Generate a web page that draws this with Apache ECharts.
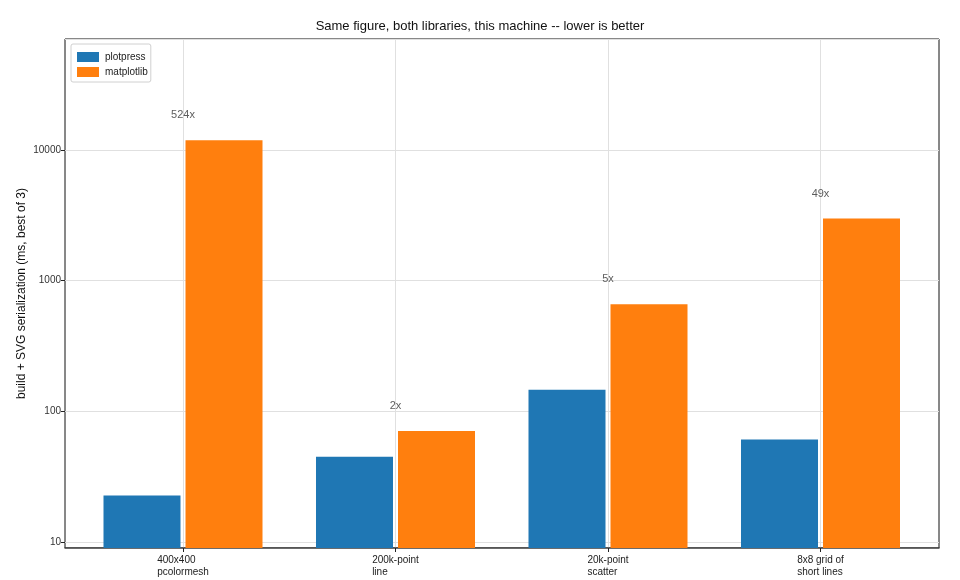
<!DOCTYPE html>
<html>
<head>
<meta charset="utf-8">
<script src="https://cdn.jsdelivr.net/npm/echarts@6/dist/echarts.min.js"></script>
<style>
  html, body { margin: 0; padding: 0; background: #fff; }
  #container { width: 960px; height: 580px; }
</style>
</head>
<body>
<div id="container"></div>
<script>
// benchmark figures (ms, log scale)
var categories = ['400x400\npcolormesh', '200k-point\nline', '20k-point\nscatter', '8x8 grid of\nshort lines']
var plotpress = [22.7, 45, 146, 60.8]
var matplotlib = [11900, 70.7, 660, 2990]
var ratioLabels = ['524x', '2x', '5x', '49x']

var FONT = 'Liberation Sans'
var yMin = 9
var yMax = 70700

var dom = document.getElementById('container')
var myChart = echarts.init(dom, null, { renderer: 'canvas' })

// annotation sits a little above the taller bar of each group
var ratioPoints = []
for (var i = 0; i < categories.length; i++) {
    ratioPoints.push([i, Math.max(plotpress[i], matplotlib[i]) * 1.55])
}

var option = {
    backgroundColor: '#fff',
    animation: false,
    textStyle: { fontFamily: FONT },
    title: {
        text: 'Same figure, both libraries, this machine -- lower is better',
        left: 'center',
        top: 15,
        textStyle: { fontFamily: FONT, fontSize: 13, fontWeight: 'normal', color: '#111' }
    },
    legend: {
        orient: 'vertical',
        left: 71,
        top: 44,
        padding: [8, 3, 5, 6],
        itemWidth: 22,
        itemHeight: 10,
        itemGap: 5,
        icon: 'rect',
        borderColor: '#d0d0d0',
        borderWidth: 1,
        borderRadius: 2,
        backgroundColor: '#fff',
        textStyle: { fontFamily: FONT, fontSize: 10, color: '#222', padding: [0, 0, 0, 1] },
        data: ['plotpress', 'matplotlib']
    },
    grid: [
        // frame + log axis
        { left: 65, right: 21, top: 39, bottom: 32, show: true, borderColor: '#111', borderWidth: 1, containLabel: false },
        // category bands, shifted so the label positions match the original
        { left: 76.75, right: 33.25, top: 39, bottom: 32, containLabel: false }
    ],
    xAxis: [
        {
            gridIndex: 0, type: 'value', min: 0, max: 1,
            axisLine: { show: true, lineStyle: { color: '#444', width: 1.5 } },
            axisTick: { show: false }, axisLabel: { show: false }, splitLine: { show: false }
        },
        {
            gridIndex: 1, type: 'category', data: categories,
            axisLine: { show: false },
            axisTick: { show: true, alignWithLabel: true, length: 4, lineStyle: { color: '#222' } },
            axisLabel: {
                margin: 6,
                formatter: function (v) {
                    return v.split('\n').map(function (s) { return '{l|' + s + '}' }).join('\n')
                },
                rich: { l: { align: 'left', fontFamily: FONT, fontSize: 10, lineHeight: 12, color: '#222' } }
            },
            splitLine: { show: true, alignWithLabel: true, lineStyle: { color: '#e0e0e0', width: 1 } }
        }
    ],
    yAxis: [
        {
            gridIndex: 0, type: 'log', logBase: 10, min: yMin, max: yMax,
            name: 'build + SVG serialization (ms, best of 3)',
            nameLocation: 'middle',
            nameGap: 37,
            nameMoveOverlap: false,
            nameTextStyle: { fontFamily: FONT, fontSize: 12, color: '#111' },
            axisLine: { show: false },
            axisTick: { show: true, length: 4, lineStyle: { color: '#222' } },
            axisLabel: {
                fontFamily: FONT, fontSize: 10, color: '#333', margin: 4,
                showMinLabel: false, showMaxLabel: false,
                formatter: function (v) { return String(Math.round(v)) }
            },
            splitLine: { show: true, lineStyle: { color: '#e0e0e0', width: 1 } },
            minorTick: { show: false }
        },
        {
            gridIndex: 1, type: 'log', logBase: 10, min: yMin, max: yMax, show: false,
            splitLine: { show: false }
        }
    ],
    series: [
        {
            name: 'plotpress', type: 'bar', xAxisIndex: 1, yAxisIndex: 1,
            data: plotpress, barWidth: 77, barGap: '6.5%',
            itemStyle: { color: '#1f77b4' }
        },
        {
            name: 'matplotlib', type: 'bar', xAxisIndex: 1, yAxisIndex: 1,
            data: matplotlib, barWidth: 77, barGap: '6.5%',
            itemStyle: { color: '#ff7f0e' }
        },
        {
            name: 'ratio', type: 'scatter', xAxisIndex: 1, yAxisIndex: 1,
            data: ratioPoints, symbolSize: 0, silent: true,
            label: {
                show: true, position: 'inside',
                fontFamily: FONT, fontSize: 11, color: '#333',
                formatter: function (p) { return ratioLabels[p.dataIndex] }
            }
        }
    ]
}

myChart.setOption(option)
</script>
</body>
</html>
